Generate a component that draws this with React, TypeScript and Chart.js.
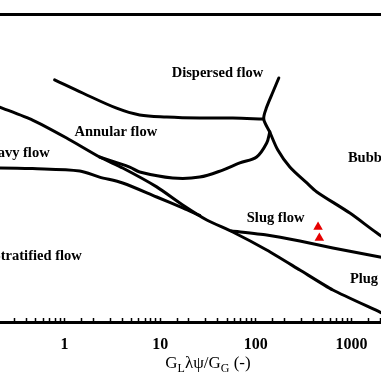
import { useEffect, useRef } from "react";
import { Chart, registerables } from "chart.js";
Chart.register(...registerables);

// Axis ranges (log-log map)
const X_MIN = 0.1;
const X_MAX = 10000;
const Y_MIN = 0.1;
const Y_MAX = 100;
const xTickLabels = [1, 10, 100, 1000];

// Boundary A: stratified / wavy / annular / slug / plug (long diagonal)
const lineA_x = [0.1, 0.209, 0.462, 1.05, 2.32, 4.05, 9.19, 17.2, 30.7, 57.4, 130, 289, 640, 1988, 3300];
const lineA_y = [16.3, 12.4, 9.27, 6.2, 4.05, 3.16, 2.07, 1.38, 0.985, 0.753, 0.503, 0.321, 0.205, 0.125, 0.1];

// Boundary B: wavy / stratified
const lineB_x = [0.1, 0.209, 0.462, 1.44, 2.32, 4.05, 9.19, 17.2, 25.9];
const lineB_y = [3.16, 3.17, 3.12, 2.96, 2.58, 2.26, 1.65, 1.29, 1.09];

// Boundary C: annular / wavy-slug curve
const lineC_x = [140, 130, 102, 68, 45.1, 25.9, 13.5, 6.1, 4.8, 2.32];
const lineC_y = [7.09, 5.54, 4.05, 3.54, 3.02, 2.58, 2.53, 2.89, 3.23, 4.05];

// Boundary D: dispersed / annular
const lineD_x = [0.786, 1.543, 3.5, 6.1, 11.7, 25.9, 57.4, 121];
const lineD_y = [22.8, 17.0, 12.1, 10.4, 9.93, 9.7, 9.7, 9.49];

// Boundary V: dispersed / bubble (near-vertical)
const lineV_x = [174, 151, 130, 121, 140];
const lineV_y = [23.8, 17.4, 12.4, 9.49, 7.09];

// Boundary E: slug / bubble
const lineE_x = [140, 170, 227, 342, 435, 964, 1849, 5210];
const lineE_y = [7.09, 4.73, 3.23, 2.26, 1.85, 1.15, 0.736, 0.384];

// Boundary F: slug / plug
const lineF_x = [56.1, 130, 289, 640, 1988, 10000];
const lineF_y = [0.769, 0.703, 0.615, 0.526, 0.43, 0.321];

// Experimental points (red triangles)
const pointsX = [448, 462];
const pointsY = [0.841, 0.658];

// Region labels
const regionNames = ["Dispersed flow", "Annular flow", "Wavy flow", "Bubble flow", "Slug flow", "Stratified flow", "Plug flow"];
const regionX = [13.2, 1.27, 0.697, 919, 80.5, 1.51, 964];
const regionY = [26.6, 7.09, 4.43, 3.96, 1.03, 0.44, 0.263];
const regionAlign = ["left", "left", "right", "left", "left", "right", "left"];

const zip = (xs: number[], ys: number[]) => xs.map((x, i) => ({ x, y: ys[i] }));

const regionLabelPlugin = {
  id: "regionLabels",
  afterDatasetsDraw(chart: any) {
    const { ctx, scales } = chart;
    ctx.save();
    ctx.fillStyle = "#000";
    ctx.font = "bold 14.5px 'Liberation Serif', 'Times New Roman', serif";
    ctx.textBaseline = "middle";
    regionNames.forEach((name, i) => {
      ctx.textAlign = regionAlign[i] as CanvasTextAlign;
      ctx.fillText(name, scales.x.getPixelForValue(regionX[i]), scales.y.getPixelForValue(regionY[i]));
    });
    ctx.restore();
  },
};

const axisTitlePlugin = {
  id: "axisTitleSub",
  afterDraw(chart: any) {
    const { ctx, chartArea } = chart;
    const parts: [string, boolean][] = [["G", false], ["L", true], ["λψ/G", false], ["G", true], [" (-)", false]];
    const mainFont = "17px 'Liberation Serif', 'Times New Roman', serif";
    const subFont = "12px 'Liberation Serif', 'Times New Roman', serif";
    ctx.save();
    let total = 0;
    parts.forEach(([t, sub]) => {
      ctx.font = sub ? subFont : mainFont;
      total += ctx.measureText(t).width;
    });
    let x = (chartArea.left + chartArea.right) / 2 - total / 2;
    const baseline = chartArea.bottom + 46;
    ctx.fillStyle = "#000";
    ctx.textAlign = "left";
    ctx.textBaseline = "alphabetic";
    parts.forEach(([t, sub]) => {
      ctx.font = sub ? subFont : mainFont;
      ctx.fillText(t, x, baseline + (sub ? 4 : 0));
      x += ctx.measureText(t).width;
    });
    ctx.restore();
  },
};

const lineStyle = (data: { x: number; y: number }[], tension = 0) => ({
  data,
  borderColor: "#000",
  borderWidth: 3,
  pointRadius: 0,
  pointHoverRadius: 0,
  tension,
  fill: false,
  borderCapStyle: "round" as const,
  borderJoinStyle: "round" as const,
});

export default function App() {
  const ref = useRef<HTMLCanvasElement | null>(null);
  useEffect(() => {
    if (!ref.current) return;
    const chart = new Chart(ref.current, {
      type: "line",
      data: {
        datasets: [
          lineStyle(zip(lineA_x, lineA_y), 0.2),
          lineStyle(zip(lineB_x, lineB_y), 0.3),
          lineStyle(zip(lineC_x, lineC_y), 0.35),
          lineStyle(zip(lineD_x, lineD_y), 0.35),
          lineStyle(zip(lineV_x, lineV_y), 0.3),
          lineStyle(zip(lineE_x, lineE_y), 0.3),
          lineStyle(zip(lineF_x, lineF_y), 0.2),
          {
            data: zip(pointsX, pointsY),
            showLine: false,
            pointStyle: "triangle",
            pointRadius: 5.5,
            pointHoverRadius: 5.5,
            backgroundColor: "#e60000",
            borderColor: "#e60000",
            borderWidth: 0,
          } as any,
        ],
      },
      options: {
        responsive: false,
        animation: false,
        devicePixelRatio: 1,
        layout: { autoPadding: false, padding: { top: 14, bottom: 9, left: 0, right: 0 } },
        plugins: { legend: { display: false }, tooltip: { enabled: false }, title: { display: false } },
        scales: {
          x: {
            type: "logarithmic",
            position: "bottom",
            min: X_MIN,
            max: X_MAX,
            grid: { display: true, drawOnChartArea: false, drawTicks: true, tickLength: -4, tickColor: "#000", tickWidth: 1.5 },
            border: { display: true, color: "#000", width: 3 },
            ticks: {
              autoSkip: false,
              maxRotation: 0,
              padding: 0,
              color: "#000",
              font: { family: "'Liberation Serif', 'Times New Roman', serif", size: 16, weight: "bold", lineHeight: 3.375 },
              callback: (v: any) => {
                const n = Number(v);
                return xTickLabels.some((t) => Math.abs(t - n) < 1e-6 * t) ? String(Math.round(n)) : "";
              },
            },
          },
          xTop: {
            type: "logarithmic",
            position: "top",
            min: X_MIN,
            max: X_MAX,
            grid: { display: false, drawTicks: false },
            border: { display: true, color: "#000", width: 3 },
            ticks: { display: false },
          },
          y: {
            type: "logarithmic",
            min: Y_MIN,
            max: Y_MAX,
            display: false,
          },
        },
      },
      plugins: [regionLabelPlugin, axisTitlePlugin],
    } as any);
    return () => chart.destroy();
  }, []);
  return (
    <div style={{ position: "fixed", left: 0, top: 0, width: 381, height: 381, overflow: "hidden", background: "#fff" }}>
      <canvas ref={ref} width={478} height={381} style={{ position: "absolute", left: -31, top: 0, width: 478, height: 381 }} />
    </div>
  );
}
